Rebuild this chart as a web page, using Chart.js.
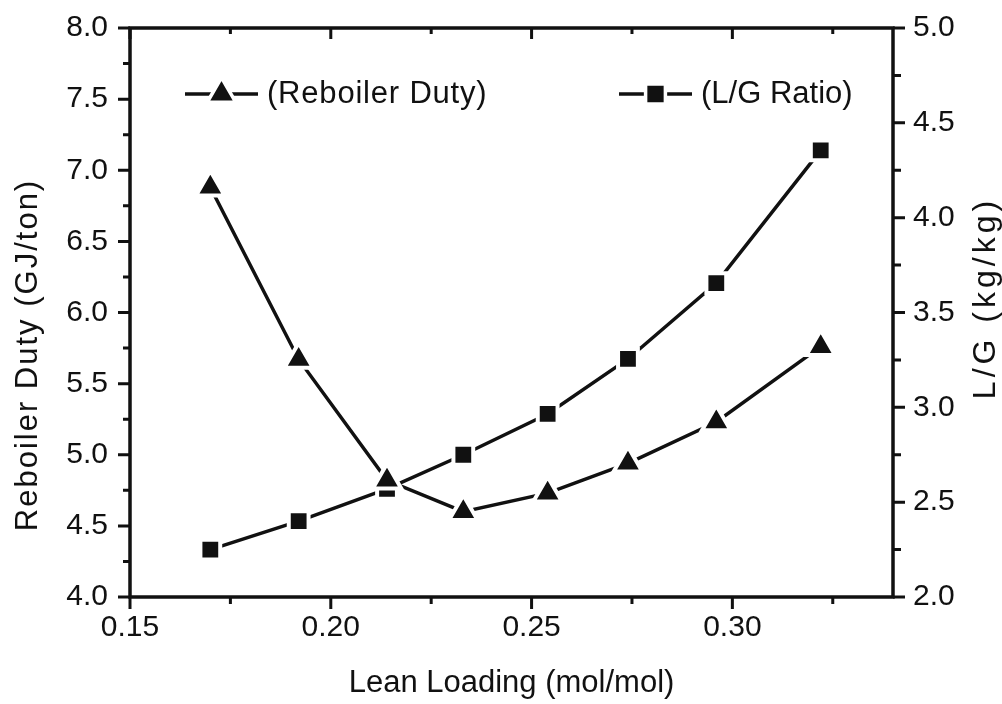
<!DOCTYPE html>
<html>
<head>
<meta charset="utf-8">
<script src="https://cdn.jsdelivr.net/npm/chart.js@4.4.1/dist/chart.umd.min.js"></script>
<style>
  html, body { margin: 0; padding: 0; background: #fff; }
</style>
</head>
<body>
<canvas id="chart" width="1002" height="704"></canvas>
<script>
const LEAN_LOADING = [0.170, 0.192, 0.214, 0.233, 0.254, 0.274, 0.296, 0.322]; // mol/mol
const REBOILER_DUTY = [6.88, 5.67, 4.82, 4.60, 4.73, 4.94, 5.23, 5.76];      // GJ/ton
const LG_RATIO = [2.25, 2.40, 2.57, 2.75, 2.965, 3.255, 3.655, 4.355];         // kg/kg

const SERIES_NAMES = ['(Reboiler Duty)', '(L/G Ratio)'];
const X_TITLE = 'Lean Loading (mol/mol)';
const Y_TITLE = 'Reboiler Duty (GJ/ton)';
const Y1_TITLE = 'L/G (kg/kg)';

const FONT = "'Liberation Sans', Arial, Helvetica, sans-serif";
const INK = '#111';
const PLOT_TOP = 28; // wanted top edge of the plot box

function pts(ys){
  return LEAN_LOADING.map((x, i) => ({x: x, y: ys[i]}));
}

const data = {
  datasets: [{
    label: SERIES_NAMES[0],
    data: pts(REBOILER_DUTY),
    yAxisID: 'y',
    borderColor: INK,
    borderWidth: 3.5,
    pointStyle: 'triangle',
    pointRadius: 16.5,
    pointBackgroundColor: INK,
    pointBorderColor: '#fff',
    pointBorderWidth: 4,
    fill: false
  }, {
    label: SERIES_NAMES[1],
    data: pts(LG_RATIO),
    yAxisID: 'y1',
    borderColor: INK,
    borderWidth: 3.5,
    pointStyle: 'rect',
    pointRadius: 14,
    pointBackgroundColor: INK,
    pointBorderColor: '#fff',
    pointBorderWidth: 4,
    fill: false
  }]
}

// frame, tick marks (major + minor), legend and y titles
const decor = {
  id: 'decor',
  afterDraw: (chart) => {
    const {ctx} = chart
    const {left, right, top, bottom} = chart.chartArea
    const sx = chart.scales.x, sy = chart.scales.y, sy1 = chart.scales.y1

    const eachTick = (scale, fn) => {
      const vals = scale.ticks.map(t => t.value)
      const step = vals[1] - vals[0]
      vals.forEach(v => {
        fn(scale.getPixelForValue(v), true)
        const m = v + step / 2
        if (m < scale.max - 1e-9) fn(scale.getPixelForValue(m), false)
      })
    }

    ctx.save()
    ctx.strokeStyle = INK
    ctx.lineWidth = 3
    ctx.beginPath()
    eachTick(sx, (p, major) => {
      ctx.moveTo(p, bottom); ctx.lineTo(p, bottom + (major ? 12 : 7))
      ctx.moveTo(p, top); ctx.lineTo(p, top + (major ? 11 : 6))
    })
    eachTick(sy, (p, major) => {
      ctx.moveTo(left, p); ctx.lineTo(left - (major ? 12 : 7), p)
    })
    eachTick(sy1, (p, major) => {
      ctx.moveTo(right, p); ctx.lineTo(right + (major ? 12 : 8), p)
    })
    ctx.stroke()

    ctx.lineWidth = 3.5
    ctx.lineJoin = 'miter'
    ctx.strokeRect(left, top, right - left, bottom - top)

    // legend inside the plot
    const legendY = 94
    const items = [
      {x0: 185, x1: 258, tx: 267, ls: '0.8px'},
      {x0: 619, x1: 692, tx: 701, ls: '0px'}
    ]
    ctx.font = '31px ' + FONT
    ctx.textBaseline = 'middle'
    ctx.textAlign = 'left'
    items.forEach((it, i) => {
      const ds = chart.data.datasets[i]
      ctx.strokeStyle = INK
      ctx.lineWidth = 3.5
      ctx.beginPath()
      ctx.moveTo(it.x0, legendY); ctx.lineTo(it.x1, legendY)
      ctx.stroke()
      ctx.fillStyle = INK
      ctx.strokeStyle = '#fff'
      Chart.helpers.drawPoint(ctx, {
        pointStyle: ds.pointStyle, radius: ds.pointRadius,
        borderWidth: ds.pointBorderWidth, rotation: 0
      }, (it.x0 + it.x1) / 2, legendY)
      ctx.fillStyle = INK
      ctx.save()
      ctx.letterSpacing = it.ls
      ctx.fillText(ds.label, it.tx, legendY)
      ctx.restore()
    })

    // y titles, both reading bottom to top
    ctx.fillStyle = INK
    ctx.textAlign = 'center'
    ctx.font = '31px ' + FONT
    ctx.save()
    ctx.letterSpacing = '2px'
    ctx.translate(28, 355)
    ctx.rotate(-Math.PI / 2)
    ctx.fillText(Y_TITLE, 0, 0)
    ctx.restore()
    ctx.save()
    ctx.letterSpacing = '4px'
    ctx.font = '32px ' + FONT
    ctx.translate(986, 298)
    ctx.rotate(-Math.PI / 2)
    ctx.fillText(Y1_TITLE, 0, 0)
    ctx.restore()

    ctx.restore()
  }
}

const tickFont = {family: FONT, size: 30}

// fixed box sizes, and no extra room asked for the end labels
const fitTo = (w, h) => s => {
  if (w != null) s.width = w
  if (h != null) s.height = h
  s.paddingTop = 0; s.paddingBottom = 0
  s.paddingLeft = 0; s.paddingRight = 0
}

const options = {
  responsive: false,
  devicePixelRatio: 1,
  animation: false,
  layout: {padding: {top: PLOT_TOP, left: 0, right: 0, bottom: 0}},
  plugins: {
    legend: {display: false},
    tooltip: {enabled: false}
  },
  scales: {
    x: {
      type: 'linear',
      min: 0.15, max: 0.34,
      grid: {display: false, drawTicks: false},
      border: {display: false},
      ticks: {
        stepSize: 0.05, includeBounds: false, padding: 13,
        color: INK, font: tickFont, maxRotation: 0,
        callback: v => v.toFixed(2)
      },
      title: {
        display: true, text: X_TITLE, color: INK,
        font: {family: FONT, size: 31}, padding: {top: 0, bottom: 2}
      },
      afterFit: fitTo(null, 107)
    },
    y: {
      position: 'left',
      min: 4, max: 8,
      grid: {display: false, drawTicks: false},
      border: {display: false},
      ticks: {
        stepSize: 0.5, padding: 22, color: INK, font: tickFont,
        callback: v => v.toFixed(1)
      },
      afterFit: fitTo(130, null)
    },
    y1: {
      position: 'right',
      min: 2, max: 5,
      grid: {display: false, drawTicks: false},
      border: {display: false},
      ticks: {
        stepSize: 0.5, padding: 20, color: INK, font: tickFont,
        callback: v => v.toFixed(1)
      },
      afterFit: fitTo(109, null)
    }
  }
}

const config = {
  type: 'line',
  data,
  options,
  plugins: [decor]
}

const $chart = document.getElementById('chart')
let chart = new Chart($chart, config)

// if the layout still added room on top, rebuild with less padding
const extra = chart.chartArea.top - PLOT_TOP
if (extra > 0.5) {
  chart.destroy()
  options.layout.padding.top = Math.max(0, PLOT_TOP - extra)
  chart = new Chart($chart, config)
}
</script>
</body>
</html>
